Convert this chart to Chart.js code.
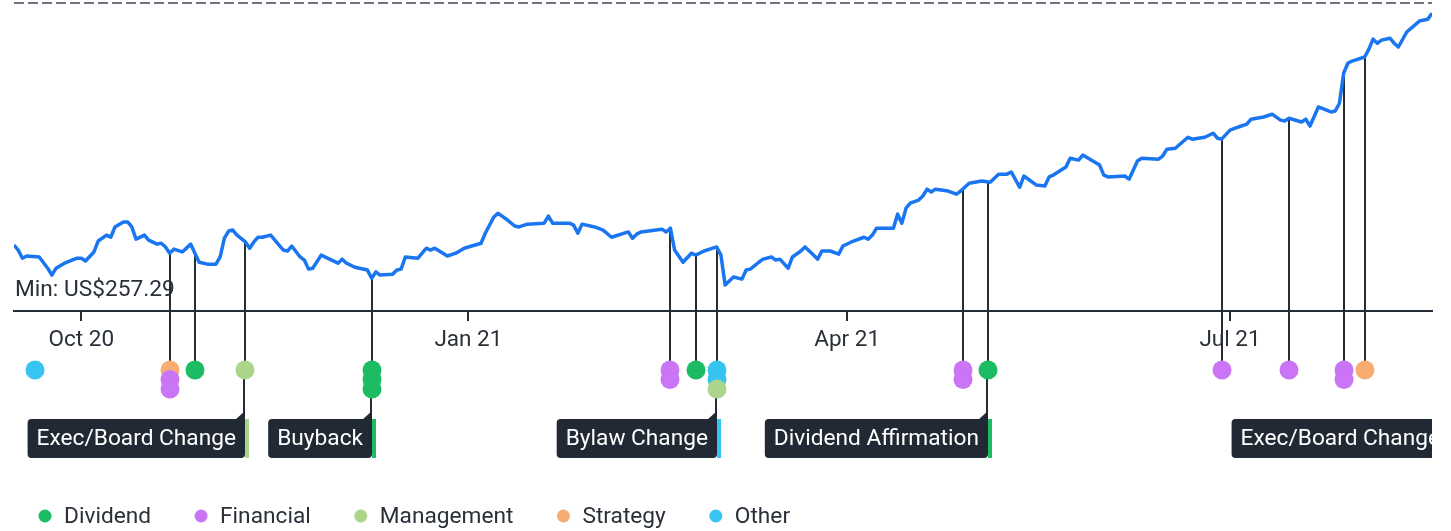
<!DOCTYPE html>
<html>
<head>
<meta charset="utf-8">
<script src="https://cdn.jsdelivr.net/npm/chart.js@4.4.1/dist/chart.umd.min.js"></script>
<style>
  html, body { margin:0; padding:0; background:#fff; }
  #chart { display:block; }
</style>
</head>
<body>
<canvas id="chart" width="1451" height="531"></canvas>
<script>
// day numbers count from 2020-09-01 (day 0)
const days = [14,15,16,17,20,22,23,24,26,29,30,31,33,34,36,37,38,40,41,42,43,45,46,48,49,50,51,52,54,56,57,58,60,62,63,64,65,66,67,69,70,71,72,73,75,78,79,80,82,83,84,85,87,89,91,92,93,95,98,99,100,101,104,105,106,107,110,112,113,114,117,119,121,125,126,128,129,131,133,134,136,140,141,142,146,147,148,149,152,154,156,160,161,162,163,168,169,170,171,173,175,176,178,181,182,183,185,187,188,189,191,192,194,195,196,198,199,201,202,204,205,206,208,210,211,213,216,217,218,219,223,224,225,226,227,229,230,231,232,233,236,238,239,241,244,246,248,250,251,253,254,257,259,260,261,264,265,267,268,272,273,274,278,279,281,282,286,287,288,290,293,294,297,299,300,301,303,305,307,308,311,313,315,316,317,320,321,322,324,327,328,329,330,331,332,335,336,337,338,339,341,342,343,345,348,350,351];
const prices = [270.1,268.5,265.9,266.6,266.3,262.7,260.5,262.7,264.3,265.9,265.9,265.0,267.9,271.4,273.3,272.6,275.9,277.5,277.5,275.9,272.0,273.3,271.7,270.4,270.7,269.5,267.5,268.8,267.9,270.4,267.5,264.6,264.0,264.0,266.3,272.3,274.6,274.9,273.3,271.1,269.1,271.1,272.6,272.6,273.3,268.5,268.2,269.8,266.3,265.3,262.4,262.7,266.9,265.6,264.3,265.6,264.3,263.0,262.1,259.5,261.5,260.5,260.8,262.1,262.4,266.3,265.9,269.1,268.5,269.1,266.6,267.5,269.1,270.7,273.9,279.0,280.3,278.4,276.2,275.9,276.8,277.1,279.4,277.1,277.1,276.5,273.9,276.8,275.9,274.9,272.6,274.3,272.3,273.6,274.3,275.2,274.3,275.5,268.5,264.6,267.5,266.9,268.2,269.5,266.9,257.29,259.9,259.2,262.1,262.4,264.6,265.6,266.3,265.3,265.6,262.7,266.3,268.2,269.5,266.9,265.6,268.2,268.2,267.2,269.8,271.1,272.6,272.0,273.3,275.5,275.5,280.0,277.1,281.9,283.5,284.5,285.8,288.0,287.1,288.0,287.4,286.4,287.4,289.9,290.6,290.2,292.8,292.8,293.5,288.6,292.2,289.3,289.0,291.9,292.5,295.1,297.9,297.3,298.9,295.7,292.5,291.9,292.2,291.2,297.0,297.9,297.6,298.6,300.8,301.1,304.6,304.0,304.6,305.9,304.3,304.0,306.9,307.9,308.8,310.4,311.1,312.0,310.1,309.8,310.7,309.5,310.4,308.2,314.3,312.7,313.0,315.5,325.1,328.3,329.0,330.3,332.8,336.0,334.7,335.7,336.3,334.7,333.5,338.3,341.8,342.4,344.3];

const tickDays = [30, 122, 212, 303];
const tickLabels = ['Oct 20', 'Jan 21', 'Apr 21', 'Jul 21'];

const categories = ['Dividend', 'Financial', 'Management', 'Strategy', 'Other'];
const categoryColors = ['#1cbc62', '#c975f5', '#acd58c', '#f7ad72', '#37c4f0'];

const eventDays = [19, 51, 57, 69, 99, 170, 176, 181, 239.5, 245.5, 301, 317, 330, 335, 355];
const eventTypes = [
  ['Other'], ['Strategy','Financial','Financial'], ['Dividend'], ['Management'],
  ['Dividend','Dividend','Dividend'], ['Financial','Financial'], ['Dividend'],
  ['Other','Other','Management'], ['Financial','Financial'], ['Dividend'],
  ['Financial'], ['Financial'], ['Financial','Financial'], ['Strategy'], ['Management']
];
const eventLabels = [null, null, null, 'Exec/Board Change', 'Buyback', null, null, 'Bylaw Change', null, 'Dividend Affirmation', null, null, null, null, 'Exec/Board Change'];
const eventHasStem = [false, true, true, true, true, true, true, true, true, true, true, true, true, true, true];

const FONT = '22.7px Roboto, "Noto Sans", sans-serif';
const DARK = '#252d37';
const TEXT = '#2a3039';

function colorOf(type){ return categoryColors[categories.indexOf(type)]; }

function priceAt(d){
  if (d < days[0] || d > days[days.length-1]) return null;
  for (let i=1;i<days.length;i++){
    if (d <= days[i]) {
      const t = (d - days[i-1]) / (days[i] - days[i-1]);
      return prices[i-1] + t * (prices[i] - prices[i-1]);
    }
  }
  return null;
}

const eventsPlugin = {
  id: 'events',
  beforeDatasetsDraw(chart){
    const {ctx, chartArea:a, scales:{x, y}} = chart;
    ctx.save();
    // dashed top line
    ctx.strokeStyle = '#6c7580'; ctx.lineWidth = 2; ctx.setLineDash([10,4]);
    ctx.beginPath(); ctx.moveTo(a.left, a.top + 1); ctx.lineTo(a.right, a.top + 1); ctx.stroke();
    ctx.setLineDash([]);
    // stems from price line down to the event dots
    ctx.beginPath(); ctx.rect(a.left, 0, a.right - a.left, chart.height); ctx.clip();
    ctx.strokeStyle = DARK; ctx.lineWidth = 2;
    const rowY = a.bottom + 59;
    eventDays.forEach((d,i)=>{
      const px = Math.round(x.getPixelForValue(d)) ;
      const p = priceAt(d);
      if (eventHasStem[i] && p !== null) {
        ctx.beginPath(); ctx.moveTo(px, y.getPixelForValue(p)); ctx.lineTo(px, rowY); ctx.stroke();
      }
    });
    ctx.restore();
  },
  afterDraw(chart){
    const {ctx, chartArea:a, scales:{x}} = chart;
    ctx.save();
    // min label
    ctx.font = FONT; ctx.fillStyle = TEXT; ctx.textAlign = 'left'; ctx.textBaseline = 'alphabetic';
    ctx.fillText('Min: US$' + Math.min(...prices).toFixed(2), a.left + 1, a.bottom - 15);

    ctx.beginPath(); ctx.rect(a.left, 0, a.right - a.left, chart.height); ctx.clip();
    const rowY = a.bottom + 59, step = 9.5, r = 9.5;
    const boxTop = a.bottom + 108, boxH = 39;
    eventDays.forEach((d,i)=>{
      const px = Math.round(x.getPixelForValue(d));
      const types = eventTypes[i];
      const label = eventLabels[i];
      if (label) {
        const lastY = rowY + step * (types.length - 1);
        ctx.strokeStyle = DARK; ctx.lineWidth = 2;
        ctx.beginPath(); ctx.moveTo(px - 1, lastY); ctx.lineTo(px - 1, boxTop - 4); ctx.stroke();
        ctx.font = FONT;
        const w = ctx.measureText(label).width + 18;
        const left = px - w;
        ctx.fillStyle = '#212934';
        ctx.beginPath(); ctx.roundRect(left, boxTop, w, boxH, [4, 0, 4, 4]); ctx.fill();
        ctx.beginPath(); ctx.moveTo(px - 10, boxTop + 1); ctx.lineTo(px, boxTop - 8); ctx.lineTo(px, boxTop + 1); ctx.closePath(); ctx.fill();
        ctx.fillStyle = colorOf(types[0]);
        ctx.fillRect(px, boxTop, 4, boxH);
        ctx.fillStyle = '#ffffff'; ctx.textBaseline = 'middle'; ctx.textAlign = 'left';
        ctx.fillText(label, left + 9, boxTop + boxH / 2 + 1);
      }
      types.forEach((t,k)=>{
        ctx.fillStyle = colorOf(t);
        ctx.beginPath(); ctx.arc(px, rowY + step * k, r, 0, Math.PI * 2); ctx.fill();
      });
    });
    ctx.restore();

    // legend
    ctx.save();
    ctx.font = FONT; ctx.textBaseline = 'middle'; ctx.textAlign = 'left';
    let lx = 45; const ly = 516;
    categories.forEach((c,i)=>{
      ctx.fillStyle = categoryColors[i];
      ctx.beginPath(); ctx.arc(lx, ly, 6.5, 0, Math.PI * 2); ctx.fill();
      ctx.fillStyle = TEXT;
      ctx.fillText(c, lx + 19, ly + 1);
      lx += 19 + ctx.measureText(c).width + 50;
    });
    ctx.restore();
  }
};

const ctx = document.getElementById('chart').getContext('2d');
window._chart = new Chart(ctx, {
  type: 'line',
  data: {
    datasets: [{
      data: days.map((d,i)=>({x:d, y:prices[i]})),
      borderColor: '#1a75f0',
      borderWidth: 3.5,
      pointRadius: 0,
      tension: 0,
      fill: false,
      borderJoinStyle: 'round'
    }]
  },
  options: {
    responsive: false,
    animation: false,
    devicePixelRatio: 1,
    layout: { padding: { left: 14, right: 19, top: 2, bottom: 0 } },
    plugins: { legend: { display: false }, tooltip: { enabled: false } },
    events: [],
    scales: {
      x: {
        type: 'linear',
        min: 14, max: 351,
        afterBuildTicks: s => { s.ticks = tickDays.map(v => ({ value: v })); },
        afterFit: s => { s.height = 220; },
        ticks: {
          autoSkip: false, maxRotation: 0, padding: 6,
          color: TEXT, font: { family: 'Roboto, "Noto Sans", sans-serif', size: 22.5 },
          callback: (v, i) => tickLabels[i]
        },
        grid: { drawOnChartArea: false, drawTicks: true, tickLength: 10, color: DARK, lineWidth: 2 },
        border: { display: true, color: DARK, width: 2 }
      },
      y: { display: false, min: 249, max: 347.9 }
    }
  },
  plugins: [eventsPlugin]
});
</script>
</body>
</html>
